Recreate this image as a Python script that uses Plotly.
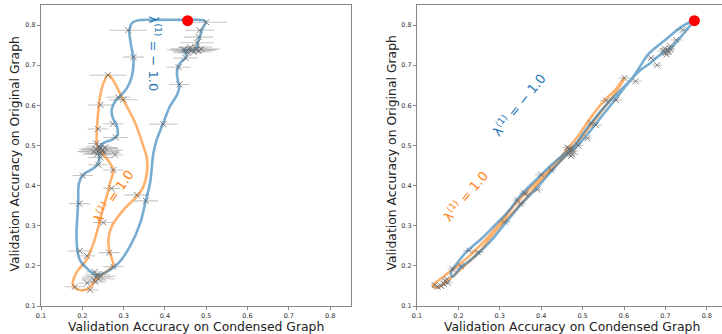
import plotly.graph_objects as go

# ---------------- data ----------------
ticks = [0.1, 0.2, 0.3, 0.4, 0.5, 0.6, 0.7, 0.8]
tick_labels = ["0.1", "0.2", "0.3", "0.4", "0.5", "0.6", "0.7", "0.8"]

# Left panel, lambda = -1.0 (blue): evaluated points with x error
L_blue_x = [0.311, 0.324, 0.500, 0.484, 0.482, 0.478, 0.474,
            0.445, 0.452, 0.458, 0.465, 0.470, 0.476, 0.482, 0.488, 0.462, 0.455,
            0.450, 0.433, 0.435, 0.396, 0.354, 0.299, 0.287, 0.274, 0.281,
            0.232, 0.238, 0.242, 0.245, 0.236, 0.248, 0.240, 0.252, 0.228, 0.244,
            0.239, 0.201, 0.193, 0.194, 0.275,
            0.228, 0.234, 0.240, 0.236, 0.244, 0.232, 0.230, 0.212]
L_blue_y = [0.787, 0.720, 0.807, 0.787, 0.770, 0.756, 0.745,
            0.738, 0.735, 0.741, 0.737, 0.733, 0.739, 0.736, 0.740, 0.744, 0.731,
            0.718, 0.695, 0.652, 0.553, 0.362, 0.614, 0.620, 0.554, 0.520,
            0.490, 0.485, 0.493, 0.480, 0.478, 0.488, 0.498, 0.482, 0.484, 0.470,
            0.452, 0.425, 0.355, 0.237, 0.198,
            0.165, 0.172, 0.168, 0.178, 0.174, 0.160, 0.185, 0.157]
L_blue_e = [0.045, 0.025, 0.050, 0.035, 0.035, 0.040, 0.040,
            0.040, 0.030, 0.045, 0.050, 0.040, 0.050, 0.040, 0.045, 0.030, 0.035,
            0.030, 0.030, 0.025, 0.035, 0.030, 0.035, 0.030, 0.025, 0.030,
            0.040, 0.050, 0.045, 0.040, 0.035, 0.050, 0.030, 0.040, 0.035, 0.030,
            0.025, 0.025, 0.025, 0.030, 0.025,
            0.030, 0.035, 0.040, 0.030, 0.035, 0.025, 0.020, 0.020]

# Left panel, lambda = 1.0 (orange)
L_orange_x = [0.262, 0.244, 0.238, 0.234, 0.250, 0.255, 0.245, 0.279, 0.275,
              0.271, 0.332, 0.251, 0.265, 0.211, 0.182, 0.219]
L_orange_y = [0.675, 0.601, 0.541, 0.505, 0.488, 0.495, 0.493, 0.477, 0.439,
              0.393, 0.377, 0.308, 0.233, 0.225, 0.148, 0.140]
L_orange_e = [0.045, 0.030, 0.025, 0.020, 0.040, 0.030, 0.040, 0.020, 0.025,
              0.020, 0.030, 0.025, 0.025, 0.020, 0.025, 0.020]

# Left panel smoothed trajectories
L_blue_cx = [0.336, 0.380, 0.453, 0.493, 0.499, 0.489, 0.485, 0.479, 0.477, 0.460,
             0.445, 0.453, 0.450, 0.440, 0.432, 0.429, 0.432, 0.435, 0.429, 0.412,
             0.396, 0.380, 0.372, 0.364, 0.354, 0.340, 0.315, 0.287, 0.267, 0.235,
             0.211, 0.194, 0.188, 0.186, 0.190, 0.192, 0.202, 0.227, 0.239, 0.241,
             0.239, 0.251, 0.271, 0.285, 0.283, 0.274, 0.271, 0.279, 0.291, 0.308,
             0.320, 0.324, 0.317, 0.314, 0.320, 0.336]
L_blue_cy = [0.812, 0.813, 0.813, 0.812, 0.807, 0.788, 0.772, 0.755, 0.740, 0.738,
             0.737, 0.726, 0.718, 0.709, 0.697, 0.680, 0.659, 0.647, 0.626, 0.597,
             0.556, 0.514, 0.480, 0.406, 0.364, 0.306, 0.248, 0.206, 0.190, 0.177,
             0.194, 0.215, 0.240, 0.281, 0.356, 0.406, 0.427, 0.443, 0.456, 0.477,
             0.489, 0.506, 0.514, 0.526, 0.551, 0.568, 0.589, 0.609, 0.622, 0.643,
             0.672, 0.714, 0.755, 0.788, 0.805, 0.812]
L_orange_cx = [0.263, 0.251, 0.243, 0.239, 0.236, 0.235, 0.240, 0.255, 0.267, 0.275,
               0.267, 0.259, 0.247, 0.239, 0.227, 0.219, 0.207, 0.190, 0.180, 0.177,
               0.185, 0.205, 0.222, 0.235, 0.259, 0.275, 0.271, 0.265, 0.263, 0.271,
               0.299, 0.332, 0.348, 0.357, 0.356, 0.348, 0.328, 0.299, 0.271, 0.263]
L_orange_cy = [0.676, 0.655, 0.622, 0.589, 0.547, 0.506, 0.490, 0.472, 0.456, 0.439,
               0.406, 0.373, 0.331, 0.298, 0.256, 0.235, 0.210, 0.190, 0.170, 0.155,
               0.143, 0.140, 0.150, 0.169, 0.186, 0.202, 0.219, 0.240, 0.265, 0.298,
               0.339, 0.373, 0.398, 0.439, 0.470, 0.497, 0.556, 0.614, 0.668, 0.676]

# Right panel points
R_blue_x = [0.742, 0.726, 0.712, 0.695, 0.700, 0.705, 0.708, 0.698, 0.703, 0.712,
            0.680, 0.665, 0.628, 0.581, 0.532, 0.512, 0.490,
            0.465, 0.470, 0.475, 0.468, 0.478, 0.472,
            0.400, 0.391, 0.359, 0.343, 0.311, 0.226, 0.186,
            0.168, 0.174, 0.172, 0.165]
R_blue_y = [0.788, 0.763, 0.748, 0.735, 0.730, 0.738, 0.733, 0.741, 0.727, 0.740,
            0.700, 0.718, 0.660, 0.613, 0.551, 0.518, 0.500,
            0.480, 0.487, 0.478, 0.492, 0.486, 0.474,
            0.427, 0.390, 0.381, 0.364, 0.310, 0.238, 0.192,
            0.162, 0.158, 0.167, 0.155]
R_blue_e = [0.015, 0.015, 0.012, 0.015, 0.012, 0.015, 0.010, 0.012, 0.010, 0.012,
            0.012, 0.012, 0.015, 0.015, 0.015, 0.012, 0.012,
            0.015, 0.012, 0.015, 0.010, 0.012, 0.010,
            0.015, 0.012, 0.012, 0.012, 0.015, 0.015, 0.012,
            0.012, 0.012, 0.010, 0.010]
R_orange_x = [0.601, 0.557, 0.520, 0.470, 0.463, 0.424, 0.363, 0.350, 0.247, 0.206,
              0.150, 0.143, 0.158]
R_orange_y = [0.668, 0.612, 0.556, 0.490, 0.495, 0.439, 0.380, 0.355, 0.234, 0.200,
              0.148, 0.152, 0.150]
R_orange_e = [0.015, 0.015, 0.012, 0.015, 0.012, 0.012, 0.012, 0.012, 0.015, 0.012,
              0.012, 0.010, 0.010]

# Right panel smoothed trajectories
R_blue_cx = [0.770, 0.738, 0.703, 0.679, 0.655, 0.639, 0.620, 0.590, 0.560, 0.530,
             0.505, 0.480, 0.448, 0.416, 0.383, 0.351, 0.319, 0.287, 0.255, 0.222,
             0.198, 0.182, 0.186, 0.206, 0.230, 0.271, 0.311, 0.351, 0.391, 0.432,
             0.464, 0.488, 0.512, 0.544, 0.577, 0.609, 0.633, 0.663, 0.690, 0.712,
             0.735, 0.755, 0.770]
R_blue_cy = [0.811, 0.795, 0.766, 0.746, 0.723, 0.697, 0.668, 0.636, 0.605, 0.568,
             0.535, 0.500, 0.472, 0.443, 0.410, 0.376, 0.334, 0.300, 0.267, 0.238,
             0.208, 0.183, 0.173, 0.196, 0.215, 0.254, 0.303, 0.353, 0.396, 0.445,
             0.479, 0.500, 0.528, 0.570, 0.612, 0.654, 0.682, 0.705, 0.728, 0.742,
             0.768, 0.793, 0.811]
R_orange_cx = [0.601, 0.580, 0.552, 0.520, 0.490, 0.464, 0.437, 0.405, 0.365, 0.330,
               0.303, 0.265, 0.230, 0.198, 0.166, 0.138, 0.150, 0.176, 0.220, 0.252,
               0.284, 0.317, 0.357, 0.397, 0.437, 0.470, 0.505, 0.540, 0.575, 0.601]
R_orange_cy = [0.670, 0.640, 0.612, 0.570, 0.525, 0.492, 0.458, 0.425, 0.385, 0.345,
               0.310, 0.265, 0.228, 0.200, 0.175, 0.150, 0.146, 0.165, 0.205, 0.236,
               0.280, 0.318, 0.360, 0.410, 0.452, 0.486, 0.530, 0.578, 0.625, 0.666]

# Reference point (red)
L_ref = (0.455, 0.811)
R_ref = (0.770, 0.811)

BLUE = "#1f77b4"
ORANGE = "#ff7f0e"

fig = go.Figure()


def add_panel(xa, ya, pts, curves, ref):
    # error bars (drawn first)
    for (px, py, pe) in pts:
        fig.add_trace(go.Scatter(
            x=px, y=py, mode="markers", xaxis=xa, yaxis=ya,
            marker=dict(color="rgba(0,0,0,0)", size=1),
            error_x=dict(type="data", array=pe, visible=True,
                         color="rgba(175,175,175,0.7)", thickness=1.1, width=0),
            showlegend=False, hoverinfo="skip"))
    # smoothed curves
    for (cx, cy, col) in curves:
        fig.add_trace(go.Scatter(
            x=cx, y=cy, mode="lines", xaxis=xa, yaxis=ya,
            line=dict(color=col, width=2.6, shape="spline", smoothing=1.0),
            opacity=0.6, showlegend=False, hoverinfo="skip"))
    # x markers
    for (px, py, pe) in pts:
        fig.add_trace(go.Scatter(
            x=px, y=py, mode="markers", xaxis=xa, yaxis=ya,
            marker=dict(symbol="x-thin", size=6,
                        line=dict(color="rgba(110,110,110,0.85)", width=1)),
            showlegend=False, hoverinfo="skip"))
    fig.add_trace(go.Scatter(
        x=[ref[0]], y=[ref[1]], mode="markers", xaxis=xa, yaxis=ya,
        marker=dict(color="red", size=11), showlegend=False, hoverinfo="skip"))


add_panel("x", "y",
          [(L_blue_x, L_blue_y, L_blue_e), (L_orange_x, L_orange_y, L_orange_e)],
          [(L_orange_cx, L_orange_cy, ORANGE), (L_blue_cx, L_blue_cy, BLUE)],
          L_ref)
add_panel("x2", "y2",
          [(R_blue_x, R_blue_y, R_blue_e), (R_orange_x, R_orange_y, R_orange_e)],
          [(R_orange_cx, R_orange_cy, ORANGE), (R_blue_cx, R_blue_cy, BLUE)],
          R_ref)

axis_common = dict(
    showgrid=False, zeroline=False, showline=True, linecolor="#888888",
    linewidth=1, ticks="outside", ticklen=3, tickwidth=0.8, tickcolor="#888888",
    tickvals=ticks, ticktext=tick_labels,
    tickfont=dict(family="DejaVu Sans", size=6.5, color="#333333"))

fig.update_layout(
    width=722, height=334,
    margin=dict(l=41, r=0, t=5, b=28),
    paper_bgcolor="white", plot_bgcolor="white",
    xaxis=dict(domain=[0, 0.4549], range=[0.1, 0.85], mirror=True, **axis_common),
    yaxis=dict(domain=[0, 1], range=[0.1, 0.85], mirror=True, **axis_common),
    xaxis2=dict(domain=[0.5521, 1], range=[0.1, 0.8367], mirror=True,
                anchor="y2", **axis_common),
    yaxis2=dict(domain=[0, 1], range=[0.1, 0.85], mirror=False,
                anchor="x2", **axis_common),
)

title_font = dict(family="DejaVu Sans", size=12.4, color="#222222")
xt = "Validation Accuracy on Condensed Graph"
yt = "Validation Accuracy on Original Graph"
annots = [
    dict(text=xt, x=0.2269, y=-0.067, xref="paper", yref="paper",
         showarrow=False, font=title_font, xanchor="center", yanchor="middle"),
    dict(text=xt, x=0.7797, y=-0.067, xref="paper", yref="paper",
         showarrow=False, font=title_font, xanchor="center", yanchor="middle"),
    dict(text=yt, x=-0.0382, y=0.5066, xref="paper", yref="paper", textangle=-90,
         showarrow=False, font=title_font, xanchor="center", yanchor="middle"),
    dict(text=yt, x=0.514, y=0.5066, xref="paper", yref="paper", textangle=-90,
         showarrow=False, font=title_font, xanchor="center", yanchor="middle"),
    # curve labels
    dict(text="λ<sup>(1)</sup> = − 1.0", x=0.376, y=0.731, xref="x", yref="y",
         textangle=90, showarrow=False,
         font=dict(family="DejaVu Sans", size=13, color=BLUE)),
    dict(text="λ<sup>(1)</sup> = 1.0", x=0.273, y=0.375, xref="x", yref="y",
         textangle=-56, showarrow=False,
         font=dict(family="DejaVu Sans", size=13, color=ORANGE)),
    dict(text="λ<sup>(1)</sup> = − 1.0", x=0.344, y=0.601, xref="x2", yref="y2",
         textangle=-51, showarrow=False,
         font=dict(family="DejaVu Sans", size=13, color=BLUE)),
    dict(text="λ<sup>(1)</sup> = 1.0", x=0.216, y=0.374, xref="x2", yref="y2",
         textangle=-50, showarrow=False,
         font=dict(family="DejaVu Sans", size=13, color=ORANGE)),
]
fig.update_layout(annotations=annots)

fig.write_html(
    "out.html",
    config={"displayModeBar": False},
    post_script="document.body.style.margin='0px';document.body.style.overflow='hidden';",
)
